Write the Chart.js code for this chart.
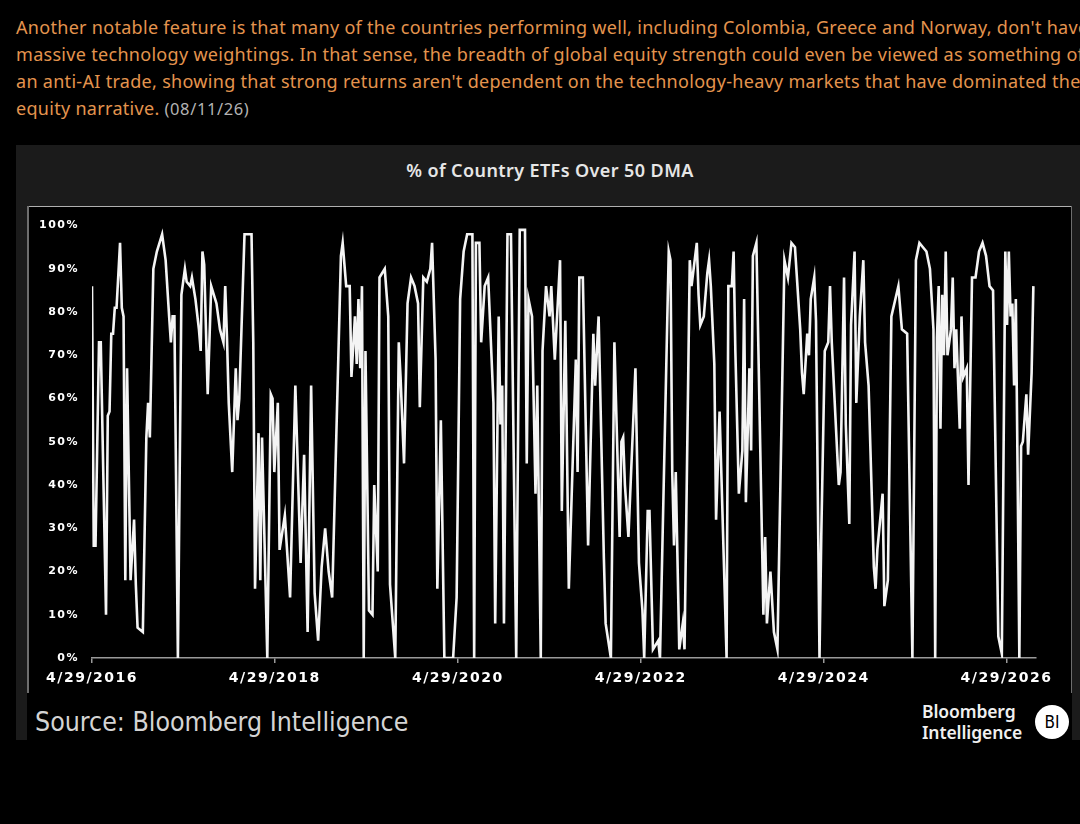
<!DOCTYPE html>
<html>
<head>
<meta charset="utf-8">
<script src="https://cdn.jsdelivr.net/npm/chart.js@4.4.1/dist/chart.umd.min.js"></script>
<style>
    body { margin: 0; width: 1080px; height: 824px; background: #000; overflow: hidden; position: relative; }
    #intro {
        position: absolute; left: 16px; top: 14px;
        font: 18px "Noto Sans", sans-serif; line-height: 27px; letter-spacing: 0.3px;
        color: #e4944e; white-space: nowrap;
    }
    #intro .date { color: #b3b3b3; font-size: 16.5px; letter-spacing: 0.6px; }
    #panel { position: absolute; left: 16px; top: 145px; width: 1064px; height: 595px; background: #1b1b1b; }
    #title {
        position: absolute; left: 2px; top: 14px; width: 100%; text-align: center;
        font: 600 18px "Noto Sans", sans-serif; line-height: 22px; letter-spacing: 0.4px; color: #e6e6e6;
    }
    #box { position: absolute; left: 27px; top: 206px; width: 1045px; height: 534px; background: #000; border-top: 1.5px solid #b0b0b0; box-sizing: border-box; }
    .side { position: absolute; top: 206px; width: 1.5px; height: 487px; background: #6e6e6e; }
    #chartWrap { position: absolute; left: 27px; top: 206px; width: 1045px; height: 490px; }
    #source {
        position: absolute; left: 35px; top: 707px;
        font: 26.5px "DejaVu Sans Condensed", "DejaVu Sans", sans-serif; font-stretch: condensed;
        line-height: 30px; color: #d4d4d4;
    }
    #logo {
        position: absolute; left: 922px; top: 701px;
        font: 600 17.5px "Noto Sans", sans-serif;
        line-height: 21px; letter-spacing: -0.1px; color: #f0f0f0;
    }
    #bi {
        position: absolute; left: 1035px; top: 705px; width: 34px; height: 34px; border-radius: 50%;
        background: #fff; color: #000; text-align: center;
        font: 17px "DejaVu Sans Condensed", "DejaVu Sans", sans-serif; font-stretch: condensed;
        line-height: 34px;
    }
</style>
</head>
<body>
<div id="intro">
    <div>Another notable feature is that many of the countries performing well, including Colombia, Greece and Norway, don't have</div>
    <div>massive technology weightings. In that sense, the breadth of global equity strength could even be viewed as something of</div>
    <div>an anti-AI trade, showing that strong returns aren't dependent on the technology-heavy markets that have dominated the</div>
    <div>equity narrative. <span class="date">(08/11/26)</span></div>
</div>
<div id="panel"><div id="title">% of Country ETFs Over 50 DMA</div></div>
<div id="box"></div>
<div class="side" style="left: 27px;"></div>
<div class="side" style="left: 1070.5px;"></div>
<div id="chartWrap"><canvas id="breadthChart"></canvas></div>
<div id="source">Source: Bloomberg Intelligence</div>
<div id="logo">Bloomberg<br>Intelligence</div>
<div id="bi">BI</div>

<script>
// Weeks since 4/29/2016 and % of country ETFs above their 50-day moving average
const weekIdx = [
    0, 1, 2, 4, 5, 8, 9, 10, 11, 12, 13, 14, 16, 17, 18, 19, 20, 22, 24, 25, 26, 29, 31, 32, 33,
    35, 37, 40, 42, 44, 45, 46, 47, 49, 51, 53, 54, 56, 57, 59, 61, 62, 63, 64, 66,
    68, 71, 73, 75, 76, 77, 78, 80, 82, 83, 84, 87, 91, 92, 93, 95, 96, 97, 100, 102,
    103, 104, 106, 107, 110, 113, 116, 119, 121, 123, 125, 127, 129, 131, 133,
    135, 137, 142, 143, 145, 147, 148, 150, 151, 152, 153, 154, 155, 156, 158, 160, 161, 163, 164, 167,
    169, 170, 173, 175, 176, 178, 180, 182, 184, 186, 187, 189, 191, 193, 194, 196, 197, 199, 201, 206,
    208, 210, 212, 214, 217, 218, 219, 221, 222, 224, 226, 229, 230, 232, 233, 234, 235, 237,
    239, 242, 244, 247, 248, 249, 251, 253, 254, 256, 257, 259, 261, 262, 264, 267, 268, 270,
    272, 276, 277, 278, 280, 283, 286, 287, 289, 292, 293, 296, 298, 301, 302, 303, 304, 306,
    310, 312, 314, 315, 317, 318, 320, 323, 324, 329, 330, 331, 332, 333, 335, 337, 338,
    341, 342, 345, 346, 347, 349, 351, 352, 353, 355, 356, 358, 362, 363, 365, 366, 367, 369, 371, 372,
    373, 375, 376, 377, 379, 383, 384, 385, 387, 389, 391, 395, 397, 399, 401, 404, 405, 406, 408,
    409, 410, 412, 413, 415, 416, 418, 420, 421, 422, 426, 427, 429, 430, 432, 433, 435, 436,
    438, 440, 441, 443, 446, 447, 448, 451, 452, 454, 456, 460, 462, 465, 468, 470, 472, 474,
    476, 478, 480, 481, 482, 483, 484, 485, 486, 487, 488, 490, 491, 492, 493, 495, 496, 497, 499, 500, 502, 504,
    506, 508, 510, 512, 514, 517, 519, 521, 522, 523, 524, 525, 526, 527, 528, 529, 530, 531, 533, 534, 536, 537
];
const pctOver50 = [
    86, 26, 26, 73, 73, 10, 56, 57, 75, 75, 81, 81, 96, 81, 79, 18, 67, 18, 32, 17, 7, 6, 51, 59, 51,
    90, 94, 98, 92, 79, 73, 79, 79, 0, 84, 90, 87, 86, 88, 83, 76, 71, 94, 91, 61,
    86, 82, 76, 73, 86, 74, 59, 43, 67, 55, 60, 98, 98, 73, 16, 52, 18, 51, 0, 61,
    60, 43, 59, 25, 33, 14, 63, 22, 47, 6, 63, 15, 4, 21, 30,
    20, 14, 93, 96, 86, 86, 65, 79, 68, 83, 67, 86, 0, 71, 11, 10, 40, 20, 88, 90,
    79, 17, 0, 73, 65, 45, 82, 88, 86, 82, 58, 88, 87, 90, 96, 69, 16, 55, 0, 0,
    14, 83, 94, 98, 98, 0, 96, 96, 73, 86, 88, 59, 8, 79, 54, 63, 8, 98,
    98, 0, 99, 99, 45, 83, 79, 38, 63, 0, 71, 86, 79, 86, 69, 92, 34, 78,
    16, 69, 43, 88, 88, 26, 75, 63, 79, 23, 8, 0, 73, 28, 50, 51, 40, 28,
    67, 22, 11, 0, 34, 34, 2, 4, 0, 94, 92, 43, 26, 43, 2, 8, 2,
    92, 86, 96, 84, 77, 79, 89, 92, 86, 68, 32, 57, 0, 86, 86, 94, 71, 38, 48, 83,
    36, 67, 48, 93, 96, 10, 28, 8, 20, 6, 2, 92, 88, 96, 95, 76, 66, 61, 75,
    70, 83, 88, 78, 0, 28, 71, 73, 86, 73, 40, 43, 88, 54, 31, 77, 94, 59,
    79, 92, 73, 63, 21, 16, 25, 38, 12, 18, 79, 86, 76, 75, 0, 92, 96, 95,
    94, 90, 76, 0, 74, 86, 53, 84, 70, 94, 70, 76, 88, 67, 76, 53, 79, 65, 67, 40, 88, 88,
    94, 96, 93, 86, 85, 5, 1, 94, 77, 94, 79, 82, 63, 83, 43, 0, 49, 50, 61, 47, 66, 86
];

const tickDates = ['2016-04-29', '2018-04-29', '2020-04-29', '2022-04-29', '2024-04-29', '2026-04-29'];
const tickLabels = ['4/29/2016', '4/29/2018', '4/29/2020', '4/29/2022', '4/29/2024', '4/29/2026'];
const yTicks = [0, 10, 20, 30, 40, 50, 60, 70, 80, 90, 100];

const WEEK_MS = 7 * 24 * 3600 * 1000;
const tickWeeks = tickDates.map(d => (Date.parse(d) - Date.parse(tickDates[0])) / WEEK_MS);

const points = weekIdx.map((w, i) => ({ x: w, y: pctOver50[i] }));

// wider label spacing, closer to the terminal font
const spacingPlugin = {
    id: 'labelSpacing',
    beforeDraw(chart) {
        chart.ctx.letterSpacing = '1.5px';
    }
};

const canvas = document.getElementById('breadthChart');

new Chart(canvas, {
    type: 'line',
    data: {
        datasets: [{
            data: points,
            borderColor: '#f4f4f4',
            borderWidth: 2.6,
            pointRadius: 0,
            tension: 0,
            fill: false
        }]
    },
    options: {
        responsive: true,
        maintainAspectRatio: false,
        animation: false,
        parsing: false,
        layout: { padding: { left: 0, right: 36, top: 16, bottom: 0 } },
        plugins: {
            legend: { display: false },
            tooltip: { enabled: false }
        },
        scales: {
            x: {
                type: 'linear',
                min: 0,
                max: 538.5,
                afterBuildTicks: scale => {
                    scale.ticks = tickWeeks.map(v => ({ value: v }));
                },
                afterFit: scale => { scale.height = 38; },
                grid: {
                    display: true,
                    drawOnChartArea: false,
                    drawTicks: true,
                    tickLength: 5,
                    color: '#9a9a9a',
                    lineWidth: 1.5
                },
                border: { display: true, color: '#9a9a9a', width: 1.5 },
                ticks: {
                    autoSkip: false,
                    maxRotation: 0,
                    padding: 7,
                    color: '#ffffff',
                    font: { family: 'DejaVu Sans', weight: 'bold', size: 14 },
                    callback: (value, index) => tickLabels[index]
                }
            },
            y: {
                min: 0,
                max: 100,
                afterBuildTicks: scale => {
                    scale.ticks = yTicks.map(v => ({ value: v }));
                },
                afterFit: scale => { scale.width = 65; },
                grid: { display: false, drawTicks: false },
                border: { display: false },
                ticks: {
                    padding: 13,
                    color: '#ffffff',
                    font: { family: 'DejaVu Sans', weight: 'bold', size: 11 },
                    callback: value => value + '%'
                }
            }
        }
    },
    plugins: [spacingPlugin]
});
</script>
</body>
</html>
